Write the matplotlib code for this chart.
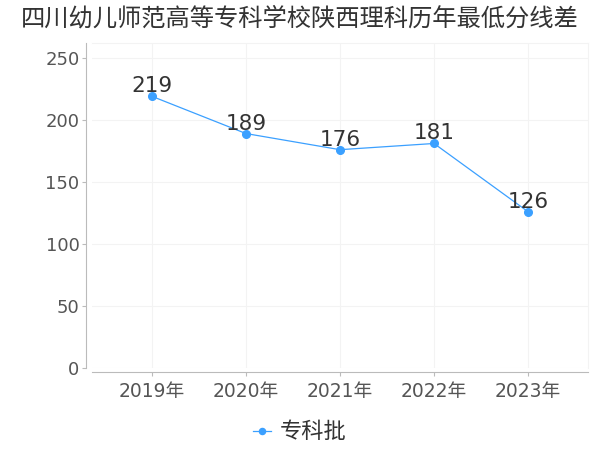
import matplotlib
matplotlib.use("Agg")
import matplotlib.pyplot as plt

plt.rcParams['font.family'] = ['DejaVu Sans', 'Noto Sans CJK SC']

title = "四川幼儿师范高等专科学校陕西理科历年最低分线差"
categories = ["2019年", "2020年", "2021年", "2022年", "2023年"]
values = [219, 189, 176, 181, 126]
series_name = "专科批"
yticks = [0, 50, 100, 150, 200, 250]

line_color = "#3ba0ff"
W, H = 600, 450
fig = plt.figure(figsize=(6, 4.5), dpi=100)
ax = fig.add_axes([92 / W, (H - 368) / H, 496 / W, 325 / H])

x = list(range(len(categories)))
ax.plot(x, values, color=line_color, lw=0.9, marker='o', markersize=5.5,
        label=series_name, zorder=3)
for xi, v in zip(x, values):
    ax.annotate(str(v), (xi, v), xytext=(0, 0), textcoords='offset points',
                ha='center', va='bottom', fontsize=15.5, color='#333333', zorder=4)

ax.set_xlim(-0.638, 4.638)
ax.set_ylim(0, 262)
ax.set_xticks(x)
ax.set_xticklabels(categories)
ax.set_yticks(yticks)
ax.grid(True, color='#f3f3f3', lw=0.8)
ax.set_axisbelow(True)
for s in ['top', 'right']:
    ax.spines[s].set_color('#f3f3f3')
    ax.spines[s].set_linewidth(0.8)
ax.spines['left'].set_position(('outward', 4))
ax.spines['bottom'].set_position(('outward', 3))
ax.spines['left'].set_color('#bbbbbb')
ax.spines['bottom'].set_color('#bbbbbb')
ax.tick_params(axis='both', colors='#bbbbbb', length=3, width=0.8,
               labelcolor='#555555')
ax.tick_params(axis='y', pad=2, labelsize=13)
ax.tick_params(axis='x', pad=4, labelsize=13.5)

fig.text(0.5, 1 - 18 / H, title, ha='center', va='center', fontsize=17.5,
         color='#333333', family=['Noto Sans CJK SC', 'DejaVu Sans'])
fig.legend(loc='center', bbox_to_anchor=(0.5, 1 - 432 / H), frameon=False,
           prop={'size': 16, 'family': ['Noto Sans CJK SC', 'DejaVu Sans']},
           handlelength=0.8, handletextpad=0.4, markerscale=0.8,
           labelcolor='#333333')

fig.savefig('out.png', dpi=100, facecolor='white')
